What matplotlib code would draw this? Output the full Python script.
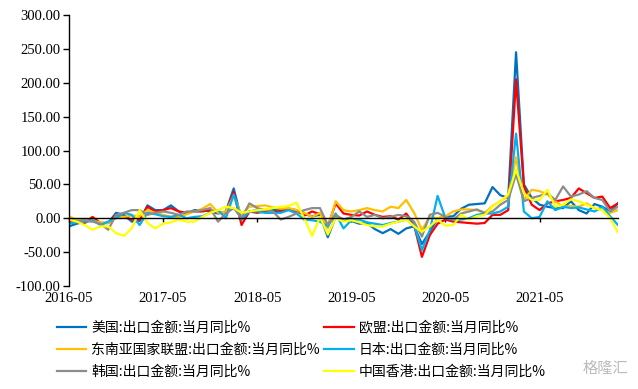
import numpy as np
import pandas as pd
import matplotlib
matplotlib.use("Agg")
import matplotlib.pyplot as plt

########################################## data ##########################################
months = pd.date_range("2016-05", periods=71, freq="MS").strftime("%Y-%m")

us = [-12, -8, -5, -4, -7, -7, 8, 5, -5, -4, 19, 12, 12, 19, 10, 7, 12, 12, 10, 7,
      10, 44, -2, 10, 12, 10, 12, 12, 14, 10, 6, 3, 5, -28, 2, -2, -4, -8, -7, -16,
      -22, -16, -23, -15, -12, -38, -20, 0, 2, 3, 14, 20, 21, 22, 46, 34, 30, 245, 50, 30,
      20, 17, 15, 15, 25, 12, 7, 21, 17, 10, 22]
eu = [-5, -6, -7, 2, -7, -7, 5, 2, -2, -3, 17, 10, 12, 15, 10, 8, 10, 10, 12, 9,
      9, 39, -10, 10, 8, 10, 9, 10, 14, 12, 4, 10, 6, -12, 22, 7, 5, 4, 10, 5,
      2, 3, -2, 7, -10, -57, -25, -8, -2, -5, -6, -7, -8, -7, 5, 5, 12, 205, 47, 20,
      12, 22, 25, 27, 30, 44, 37, 30, 32, 15, 22]
asean = [3, -3, -3, -4, -6, -7, 2, 2, 4, 3, 12, 8, 5, 2, 2, 6, 10, 14, 21, 8,
         10, 33, 5, 17, 18, 19, 16, 14, 15, 12, 8, 2, 8, -15, 25, 12, 10, 12, 15, 12,
         10, 17, 15, 27, 8, -17, 2, 0, 3, 10, 13, 13, 12, 8, 18, 25, 33, 90, 27, 42,
         40, 35, 25, 17, 18, 17, 22, 15, 12, 8, 12]
japan = [-8, -6, -5, -3, -10, -5, 0, 8, 5, -10, 8, 6, 3, 2, 5, 0, 2, 3, 8, 12,
         0, 35, -2, 10, 10, 8, 8, 8, 12, 7, -2, -3, -5, -12, 7, -15, -3, -2, -6, -8,
         -10, -7, -5, -2, -10, -47, -18, 33, 0, -2, -2, 0, 5, 7, 7, 10, 17, 125, 10, 0,
         2, 25, 12, 17, 15, 16, 13, 10, 17, 3, -10]
korea = [-2, -4, -3, -5, -8, -17, 5, 8, 12, 12, 5, 8, 10, 8, 5, 10, 10, 12, 15, -5,
         7, 15, 0, 22, 15, 12, 10, -2, 2, 7, 12, 15, 15, -10, 5, -2, 2, 10, 2, 5,
         0, 2, 5, 3, -5, -27, 5, 8, 2, -2, 7, 10, 13, 8, 10, 20, 27, 65, 25, 30,
         33, 37, 27, 47, 32, 35, 40, 30, 27, 10, 17]
hk = [-2, -5, -10, -17, -12, -12, -22, -26, -15, 12, -7, -15, -8, -6, -2, -5, -5, 2, 8, 12,
      17, 15, 8, 10, 12, 13, 15, 17, 18, 23, 0, -26, 2, -24, 0, -5, -3, -6, -10, -12,
      -12, -8, -5, -2, -12, -20, -12, -2, -11, -10, 5, -2, 3, 5, 17, 25, 35, 72, 37, 27,
      27, 42, 17, 20, 28, 25, 20, 15, 12, 0, -21]

labels = ["美国:出口金额:当月同比%", "欧盟:出口金额:当月同比%",
          "东南亚国家联盟:出口金额:当月同比%", "日本:出口金额:当月同比%",
          "韩国:出口金额:当月同比%", "中国香港:出口金额:当月同比%"]
colors = ["#0070C0", "#FF0000", "#FFC000", "#00B0F0", "#8C8C8C", "#FFFF00"]
series = [us, eu, asean, japan, korea, hk]
##########################################################################################

plt.rcParams['font.family'] = ['Liberation Serif', 'Noto Sans CJK SC', 'DejaVu Sans']

fig = plt.figure(figsize=(6.38, 3.89), dpi=100)
ax = fig.add_axes([69/638, 1 - 286/389, 549/638, 271/389])

x = np.arange(len(months))
handles = []
for vals, c, lab in zip(series, colors, labels):
    h, = ax.plot(x, vals, color=c, lw=1.6, label=lab)
    handles.append(h)

ax.set_xlim(0, len(months) - 1)
ax.set_ylim(-100, 300)
ax.set_yticks(np.arange(-100, 301, 50))
ax.set_yticklabels(["%.2f" % v for v in np.arange(-100, 301, 50)], fontsize=10.5)
ax.tick_params(axis='y', direction='out', length=4, width=1, pad=2)

for s in ['top', 'right']:
    ax.spines[s].set_visible(False)
ax.spines['left'].set_linewidth(1)
ax.spines['bottom'].set_position(('data', 0))
ax.spines['bottom'].set_linewidth(1)

xt = x[::12]
ax.set_xticks(xt)
ax.tick_params(axis='x', direction='out', length=3, width=1, labelbottom=False)
for t in xt:
    ax.text(t, -0.022, months[t], transform=ax.get_xaxis_transform(),
            ha='center', va='top', fontsize=10.5)

# legend is filled column by column, so reorder to read row by row like the original
order = [0, 2, 4, 1, 3, 5]
fig.legend(handles=[handles[i] for i in order], labels=[labels[i] for i in order],
           ncol=2, loc='upper left', bbox_to_anchor=(44/638, 1 - 308/389), frameon=False,
           prop={'family': ['Noto Sans CJK SC'], 'size': 10},
           handlelength=2.15, handletextpad=0.35, columnspacing=0.3, labelspacing=0.6)

fig.text(0.985, 0.03, "格隆汇", color="#BBBBBB", fontsize=11, ha='right', va='bottom',
         family=['Noto Sans CJK SC'])

fig.savefig("out.png", dpi=100)
